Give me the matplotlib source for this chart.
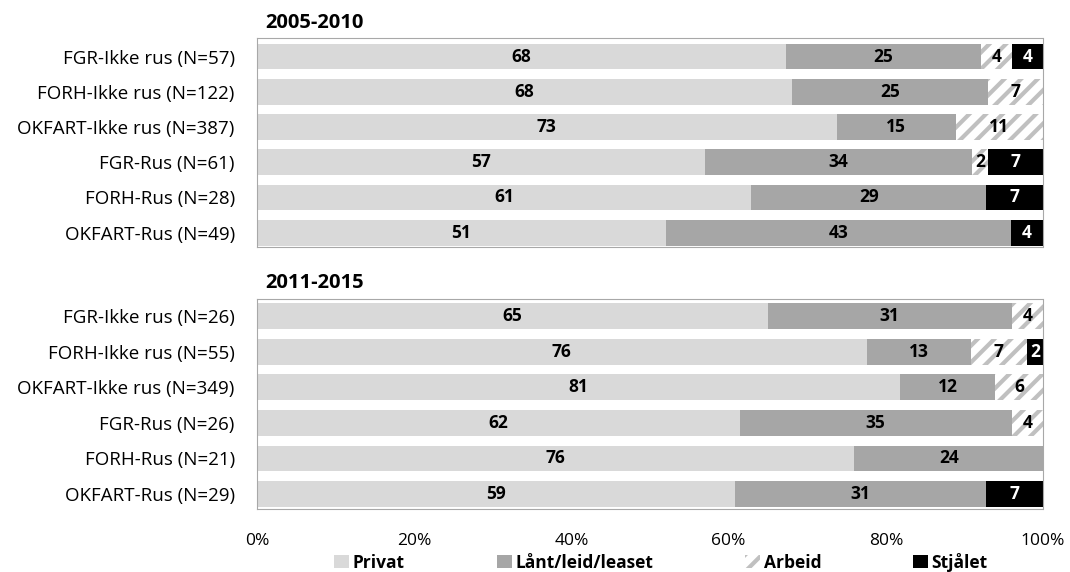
import matplotlib.pyplot as plt
import numpy as np

plt.rcParams['font.family'] = ['Open Sans', 'DejaVu Sans']
plt.rcParams['hatch.linewidth'] = 3
plt.rcParams['hatch.color'] = '#C0C0C0'

categories = ['Privat', 'Lånt/leid/leaset', 'Arbeid', 'Stjålet']

labels_0510 = ['FGR-Ikke rus (N=57)', 'FORH-Ikke rus (N=122)', 'OKFART-Ikke rus (N=387)',
               'FGR-Rus (N=61)', 'FORH-Rus (N=28)', 'OKFART-Rus (N=49)']
privat_0510 = [68, 68, 73, 57, 61, 51]
laant_0510 = [25, 25, 15, 34, 29, 43]
arbeid_0510 = [4, 7, 11, 2, 0, 0]
stjaalet_0510 = [4, 0, 0, 7, 7, 4]

labels_1115 = ['FGR-Ikke rus (N=26)', 'FORH-Ikke rus (N=55)', 'OKFART-Ikke rus (N=349)',
               'FGR-Rus (N=26)', 'FORH-Rus (N=21)', 'OKFART-Rus (N=29)']
privat_1115 = [65, 76, 81, 62, 76, 59]
laant_1115 = [31, 13, 12, 35, 24, 31]
arbeid_1115 = [4, 7, 6, 4, 0, 0]
stjaalet_1115 = [0, 2, 0, 0, 0, 7]

colors = ['#D9D9D9', '#A6A6A6', 'white', 'black']
hatches = [None, None, '//', None]
text_colors = ['black', 'black', 'black', 'white']

fig = plt.figure(figsize=(10.7, 5.72), dpi=100)
ax1 = fig.add_axes([0.2402, 0.568, 0.7346, 0.365])
ax2 = fig.add_axes([0.2402, 0.1101, 0.7346, 0.367])


def draw_panel(ax, labels, series, top_pad, bottom_pad):
    data = np.array(series, dtype=float)
    totals = data.sum(axis=0)
    frac = data / totals
    y = np.arange(len(labels))
    left = np.zeros(len(labels))
    handles = []
    for i, cat in enumerate(categories):
        b = ax.barh(y, frac[i], left=left, height=0.73, color=colors[i],
                    hatch=hatches[i], edgecolor='#C0C0C0' if hatches[i] else colors[i],
                    linewidth=0, label=cat)
        handles.append(b)
        for j in range(len(labels)):
            if data[i, j] > 0:
                ax.text(left[j] + frac[i, j] / 2, y[j], f'{int(data[i, j])}',
                        ha='center', va='center', fontsize=12.5, fontweight='bold',
                        color=text_colors[i])
        left += frac[i]
    ax.set_yticks(y)
    ax.set_yticklabels(labels, fontsize=13.5)
    ax.set_ylim(len(labels) - 1 + bottom_pad, -top_pad)
    ax.set_xlim(0, 1)
    ax.tick_params(axis='y', length=0, pad=16)
    for s in ax.spines.values():
        s.set_linestyle((0, (1, 1)))
        s.set_color('#A8A8A8')
        s.set_linewidth(0.8)
    return handles


draw_panel(ax1, labels_0510, [privat_0510, laant_0510, arbeid_0510, stjaalet_0510], 0.52, 0.41)
handles = draw_panel(ax2, labels_1115, [privat_1115, laant_1115, arbeid_1115, stjaalet_1115], 0.48, 0.42)

fig.text(0.2477, 1 - 22.5 / 572, '2005-2010', fontsize=14.5, fontweight='bold', va='center', ha='left')
fig.text(0.2477, 1 - 283 / 572, '2011-2015', fontsize=14.5, fontweight='bold', va='center', ha='left')

ax1.set_xticks([])
ax2.set_xticks(np.arange(0, 1.01, 0.2))
ax2.set_xticklabels([f'{int(round(v * 100))}%' for v in np.arange(0, 1.01, 0.2)], fontsize=12.5)
ax2.tick_params(axis='x', length=0, pad=17)

leg = fig.legend(handles, categories, loc='center', bbox_to_anchor=(0.6178, 1 - 562 / 572), ncol=4,
                 frameon=False, handlelength=0.86, handleheight=0.75, handletextpad=0.2,
                 columnspacing=5.3, borderpad=0, prop={'weight': 'bold', 'size': 12.5})

plt.savefig('out.png', dpi=100)
